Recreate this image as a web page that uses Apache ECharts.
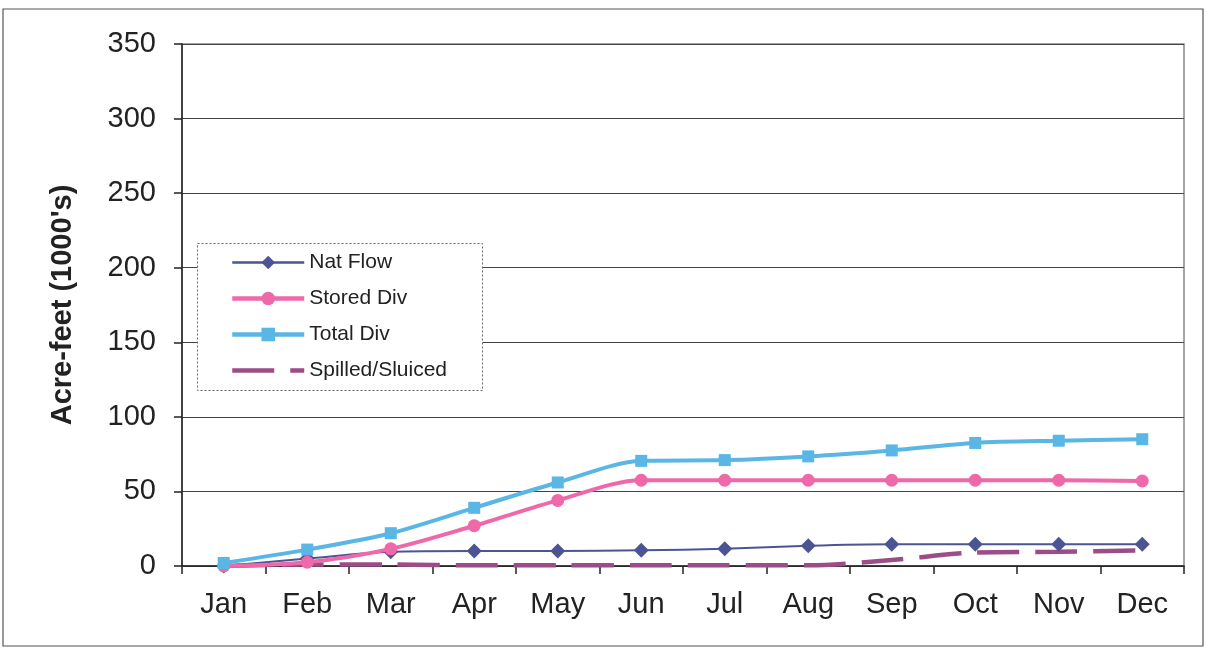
<!DOCTYPE html>
<html>
<head>
<meta charset="utf-8">
<script src="https://cdn.jsdelivr.net/npm/echarts@6/dist/echarts.min.js"></script>
<style>
html,body{margin:0;padding:0;background:#fff;}
#c{width:1207px;height:649px;}
</style>
</head>
<body>
<div id="c"></div>
<script>
const months = ['Jan','Feb','Mar','Apr','May','Jun','Jul','Aug','Sep','Oct','Nov','Dec'];
const natFlow = [0, 5, 9.5, 10, 10, 10.5, 11.5, 13.5, 14.5, 14.5, 14.5, 14.5];
const storedDiv = [0, 2.5, 11.5, 27, 44, 57.5, 57.5, 57.5, 57.5, 57.5, 57.5, 57];
const totalDiv = [2, 11, 22, 39, 56, 70.5, 71, 73.5, 77.5, 82.5, 84, 85];
const spilled = [0, 1, 1, 0.5, 0.5, 0.5, 0.5, 0.5, 4, 9, 9.5, 10.5];
const yTicks = [0, 50, 100, 150, 200, 250, 300, 350];

const chart = echarts.init(document.getElementById('c'));
const font = 'Liberation Sans, Arial, sans-serif';
chart.setOption({
  animation: false,
  backgroundColor: '#fff',
  textStyle: {fontFamily: font},
  graphic: [
    {type: 'rect', shape: {x: 3, y: 9, width: 1200, height: 637}, style: {fill: 'none', stroke: '#555', lineWidth: 1.2}, z: -1},
    {type: 'rect', shape: {x: 197.5, y: 243.5, width: 285, height: 147}, style: {fill: '#fff', stroke: '#666', lineWidth: 1, lineDash: [2, 2]}, z: 10}
  ],
  grid: {left: 182, right: 23, top: 44, bottom: 83, show: true, borderColor: '#888', borderWidth: 1.5, backgroundColor: 'transparent'},
  legend: {
    orient: 'vertical', left: 225, top: 245, itemWidth: 72, itemHeight: 17, itemGap: 11,
    textStyle: {fontSize: 21, lineHeight: 25, color: '#222', fontFamily: font},
    data: [
      {name: 'Nat Flow', lineStyle: {width: 2.5}},
      {name: 'Stored Div', lineStyle: {width: 4.5}},
      {name: 'Total Div', lineStyle: {width: 4.5}},
      {name: 'Spilled/Sluiced', lineStyle: {width: 4.5}, itemStyle: {opacity: 0}}
    ],
    z: 20
  },
  xAxis: {
    type: 'category', data: months, boundaryGap: true,
    axisLine: {lineStyle: {color: '#222', width: 1.5}},
    axisTick: {show: true, length: 8, lineStyle: {color: '#222', width: 1.5}},
    axisLabel: {fontSize: 29, color: '#222', margin: 24, fontFamily: font}
  },
  yAxis: {
    type: 'value', min: 0, max: 350, interval: 50,
    name: "Acre-feet (1000's)", nameLocation: 'middle', nameGap: 105, nameRotate: 90,
    nameTextStyle: {fontSize: 29, fontWeight: 'bold', color: '#222', fontFamily: font},
    axisLine: {show: true, lineStyle: {color: '#222', width: 1.5}},
    axisTick: {show: true, length: 8, inside: false, lineStyle: {color: '#222', width: 1.5}},
    axisLabel: {fontSize: 29, color: '#222', margin: 26, fontFamily: font,
      formatter: v => yTicks.includes(v) ? String(v) : ''},
    splitLine: {show: true, lineStyle: {color: '#444', width: 1.2}}
  },
  series: [
    {name: 'Spilled/Sluiced', type: 'line', data: spilled, smooth: 0.3, symbol: 'none',
      lineStyle: {color: '#9c4c86', width: 4.5, type: [42, 16]}, itemStyle: {color: '#9c4c86'}, z: 2},
    {name: 'Nat Flow', type: 'line', data: natFlow, smooth: 0.3, symbol: 'diamond', symbolSize: 15,
      lineStyle: {color: '#4b5594', width: 2}, itemStyle: {color: '#4b5594'}, z: 3},
    {name: 'Stored Div', type: 'line', data: storedDiv, smooth: 0.3, symbol: 'circle', symbolSize: 13,
      lineStyle: {color: '#ef68a9', width: 4}, itemStyle: {color: '#ef68a9'}, z: 4},
    {name: 'Total Div', type: 'line', data: totalDiv, smooth: 0.3, symbol: 'rect', symbolSize: 12,
      lineStyle: {color: '#5ab6e4', width: 4}, itemStyle: {color: '#5ab6e4'}, z: 5}
  ]
});
</script>
</body>
</html>
